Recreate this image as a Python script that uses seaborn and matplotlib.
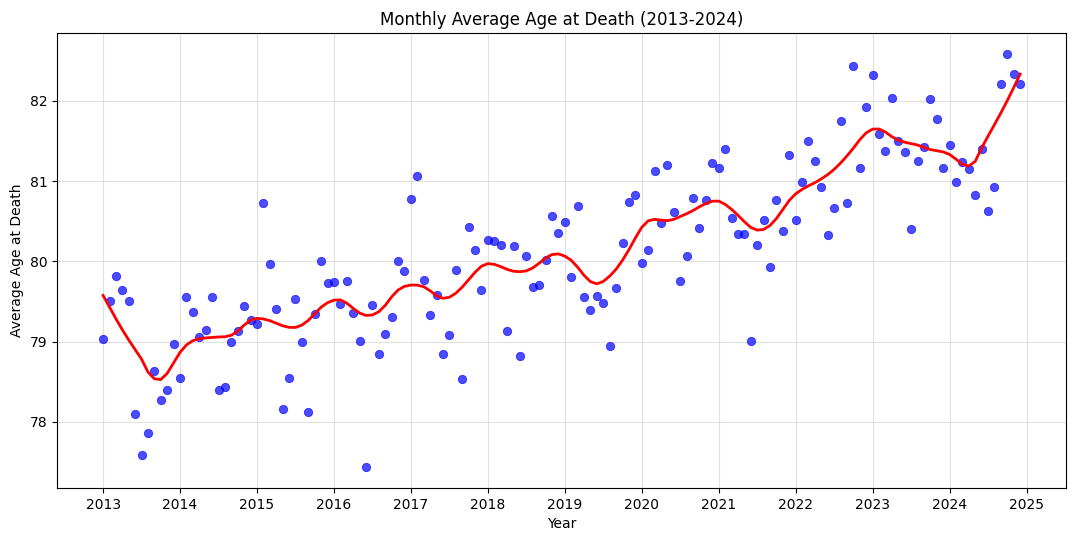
import numpy as np
import pandas as pd
import matplotlib
matplotlib.use("Agg")
import matplotlib.pyplot as plt
import seaborn as sns

years = list(range(2013, 2025))
age_2013 = [79.03, 79.51, 79.82, 79.64, 79.50, 78.10, 77.59, 77.86, 78.63, 78.27, 78.40, 78.97]
age_2014 = [78.55, 79.55, 79.37, 79.06, 79.14, 79.56, 78.39, 78.43, 78.99, 79.13, 79.44, 79.27]
age_2015 = [79.22, 80.73, 79.97, 79.40, 78.16, 78.55, 79.53, 79.00, 78.12, 79.34, 80.00, 79.73]
age_2016 = [79.74, 79.47, 79.76, 79.35, 79.01, 77.43, 79.46, 78.85, 79.09, 79.30, 80.00, 79.88]
age_2017 = [80.78, 81.06, 79.77, 79.33, 79.58, 78.84, 79.08, 79.89, 78.53, 80.43, 80.14, 79.64]
age_2018 = [80.26, 80.25, 80.21, 79.13, 80.19, 78.82, 80.07, 79.68, 79.71, 80.02, 80.56, 80.35]
age_2019 = [80.49, 79.80, 80.69, 79.56, 79.39, 79.57, 79.48, 78.95, 79.67, 80.23, 80.74, 80.83]
age_2020 = [79.98, 80.14, 81.13, 80.48, 81.20, 80.61, 79.76, 80.07, 80.79, 80.42, 80.76, 81.23]
age_2021 = [81.16, 81.40, 80.54, 80.34, 80.34, 79.01, 80.20, 80.51, 79.93, 80.77, 80.38, 81.32]
age_2022 = [80.51, 80.99, 81.50, 81.25, 80.93, 80.33, 80.67, 81.75, 80.73, 82.43, 81.17, 81.93]
age_2023 = [82.32, 81.59, 81.37, 82.04, 81.50, 81.36, 80.40, 81.25, 81.43, 82.03, 81.78, 81.16]
age_2024 = [81.45, 80.99, 81.24, 81.15, 80.83, 81.40, 80.63, 80.93, 82.21, 82.59, 82.33, 82.21]

all_ages = (age_2013 + age_2014 + age_2015 + age_2016 + age_2017 + age_2018 +
            age_2019 + age_2020 + age_2021 + age_2022 + age_2023 + age_2024)
year_frac = [y + m / 12 for y in years for m in range(12)]

df = pd.DataFrame({"Year": year_frac, "Age": all_ages})


def lowess(x, y, frac=0.1, it=3):
    n = len(x)
    k = int(np.ceil(frac * n))
    rw = np.ones(n)
    fit = np.zeros(n)
    for _ in range(it + 1):
        for i in range(n):
            d = np.abs(x - x[i])
            h = np.sort(d)[k - 1]
            u = np.clip(d / h, 0, 1)
            w = (1 - u ** 3) ** 3 * rw
            X = np.vstack([np.ones(n), x - x[i]]).T
            A = X.T @ (w[:, None] * X)
            b = X.T @ (w * y)
            fit[i] = np.linalg.solve(A, b)[0]
        res = y - fit
        s = np.median(np.abs(res))
        r = np.clip(res / (6 * s), -1, 1)
        rw = (1 - r ** 2) ** 2
    return fit


x = df["Year"].to_numpy()
df["Smooth"] = lowess(x, df["Age"].to_numpy(), frac=0.1, it=3)

fig, ax = plt.subplots(figsize=(10.8, 5.4), dpi=100)
sns.scatterplot(data=df, x="Year", y="Age", color="blue", alpha=0.7, s=36,
                edgecolor="blue", linewidth=0.6, ax=ax, zorder=3)
sns.lineplot(data=df, x="Year", y="Smooth", color="red", linewidth=2, ax=ax, zorder=4)
ax.grid(True, alpha=0.6, color="#cccccc", linewidth=0.8)
ax.set_axisbelow(True)
ax.set_xticks(range(2013, 2026))
ax.set_title("Monthly Average Age at Death (2013-2024)", fontsize=12)
ax.set_xlabel("Year")
ax.set_ylabel("Average Age at Death")
fig.subplots_adjust(left=0.053, right=0.987, top=0.939, bottom=0.096)
fig.savefig("out.png", dpi=100)
